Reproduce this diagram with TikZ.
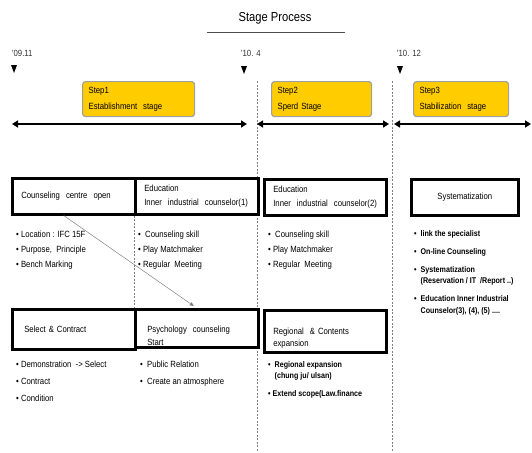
\documentclass[tikz,border=0pt]{standalone}
\usepackage{fontspec}
\setmainfont{Liberation Sans}
\newfontfamily\gul[FakeStretch=0.86]{Liberation Sans}
\usetikzlibrary{arrows.meta,positioning}
\definecolor{stepyellow}{HTML}{FFCC00}
\def\marker(#1,#2){\fill[shift={(#1,#2)}] (-3,-4) -- (3,-4) -- (0,4) -- cycle;}
\tikzset{
  stepbox/.style={draw=gray!75, line width=1.2pt, fill=stepyellow, rounded corners=3pt, anchor=north west,
    minimum height=35pt, inner xsep=6pt, inner ysep=0pt, align=left, font=\gul\fontsize{9}{16}\selectfont},
  taskbox/.style={draw, line width=2.6pt, anchor=north west, inner xsep=9pt, inner ysep=0pt,
    align=left, font=\gul\fontsize{9}{14}\selectfont},
  itemtext/.style={anchor=north west, inner sep=0pt, align=left, font=\gul\fontsize{9}{15}\selectfont},
  bolditem/.style={anchor=north west, inner sep=0pt, align=left, font=\gul\bfseries\fontsize{8.3}{11.5}\selectfont},
  datelabel/.style={anchor=west, inner sep=0pt, text=black!80, font=\gul\fontsize{9}{9}\selectfont},
  span/.style={{Triangle[length=6pt,width=7pt]}-{Triangle[length=6pt,width=7pt]}, line width=2.4pt},
  divider/.style={dashed, dash pattern=on 2pt off 1.5pt, gray, line width=0.5pt}
}

\begin{document}
\begin{tikzpicture}[x=1pt, y=-1pt]
			%%%%% START %%%%%
			\useasboundingbox (0,0) rectangle (532,452);
			
			\node (title) at (275,18) {\gul\fontsize{13}{13}\selectfont Stage Process};
			\draw[black!70] (207,32) -- (345,32);
			
			% dates and markers
			\node[datelabel] (d1) at (12,53) {'09.11};
			\node[datelabel] (d2) at (241,53) {'10. 4};
			\node[datelabel] (d3) at (397,53) {'10. 12};
			\marker(14,69)
			\marker(244,70)
			\marker(400,70)
			
			% stage dividers
			\draw[divider] (257,81) -- (257,452);
			\draw[divider] (392,81) -- (392,452);
			
			% stages
			\node[stepbox, text width=100pt] (s1) at (82,81) {Step1\\Establishment\ \ stage};
			\node[stepbox, text width=88pt] (s2) at (271,81) {Step2\\Sperd\ Stage};
			\node[stepbox, text width=83pt] (s3) at (413,81) {Step3\\Stabilization\ \ stage};
			
			\coordinate (p0) at (12,124);
			\coordinate (p1) at (247,124);
			\coordinate (p2) at (257,124);
			\coordinate (p3) at (389,124);
			\coordinate (p4) at (394,124);
			\coordinate (p5) at (531,124);
			\draw[span] (p0) -- (p1);
			\draw[span] (p2) -- (p3);
			\draw[span] (p4) -- (p5);
			
			% upper row
			\node[taskbox, minimum height=36pt, text width=105pt] (cc) at (11,177) {Counseling\ \ centre\ \ open};
			\node[taskbox, minimum height=36pt, text width=105pt] (edu1) at (134,177) {Education\\Inner\ \ industrial\ \ counselor(1)};
			\node[taskbox, minimum height=36pt, text width=104pt] (edu2) at (263,178) {Education\\Inner\ \ industrial\ \ counselor(2)};
			\node[taskbox, minimum height=36pt, text width=89pt, align=center] (sys) at (410,178) {Systematization};
			
			\node[itemtext] (cclist) at (16,231) {• Location : IFC 15F\\• Purpose,\ \ Principle\\• Bench Marking};
			\node[itemtext] (edu1list) at (138,231) {•\ \ Counseling skill\\• Play Matchmaker\\• Regular\ \ Meeting};
			\node[itemtext] (edu2list) at (268,231) {•\ \ Counseling skill\\• Play Matchmaker\\• Regular\ \ Meeting};
			\node[bolditem] (syslist) at (414,230) {•\ \ link the specialist\\[6.5pt]
				•\ \ On-line Counseling\\[6.5pt]
				•\ \ Systematization\\\hphantom{•\ \ }(Reservation / IT\ \ /Report ..)\\[6.5pt]
				•\ \ Education Inner Industrial\\\hphantom{•\ \ }Counselor(3), (4), (5) ....};
			
			\draw[divider] (edu1.south west) -- (134,308);
			
			% lower row
			\node[taskbox, minimum height=40pt, text width=105pt] (sel) at (11,308) {\ Select \& Contract};
			\node[taskbox, minimum height=38pt, text width=105pt, font=\gul\fontsize{9}{13}\selectfont] (psy) at (134,308) {\rule{0pt}{21pt}\ Psychology\ \ counseling\\\ Start};
			\node[taskbox, minimum height=42pt, text width=104pt, font=\gul\fontsize{9}{12}\selectfont] (reg) at (263,309) {\rule{0pt}{20pt}Regional\ \ \& Contents\\expansion};
			
			\node[itemtext, font=\gul\fontsize{9}{17}\selectfont] (sellist) at (16,361) {• Demonstration\ \ -> Select\\• Contract\\• Condition};
			\node[itemtext, font=\gul\fontsize{9}{17}\selectfont] (psylist) at (140,361) {•\ \ Public Relation\\•\ \ Create\ an\ atmosphere};
			\node[bolditem] (reglist) at (268,361) {•\ \ Regional expansion\\\hphantom{•\ \ }(chung ju/ ulsan)\\[6pt]• Extend scope(Law.finance};
			
			\draw[gray, line width=0.5pt, -{Triangle[length=4pt,width=3.5pt]}] ([xshift=-10pt]cc.south) -- ([xshift=-3pt,yshift=2pt]psy.north);
			%%%%% END %%%%%
\end{tikzpicture}
\end{document}
